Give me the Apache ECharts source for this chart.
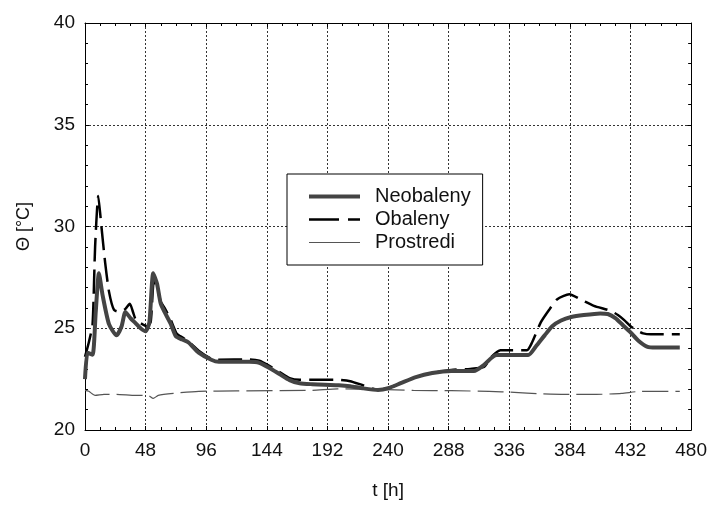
<!DOCTYPE html>
<html><head><meta charset="utf-8">
<script src="https://cdn.jsdelivr.net/npm/echarts@6/dist/echarts.min.js"></script>
<style>html,body{margin:0;padding:0;background:#fff}#c{width:710px;height:505px}</style>
</head><body><div id="c"></div>
<script>
const seriesNames = ["Neobaleny", "Obaleny", "Prostredi"];

const tNeo = [0, 2, 6, 8.5, 11, 14, 19, 25, 29, 32, 36, 40, 44, 48, 51, 54, 57, 60, 63, 68, 72, 77, 82, 90, 100, 106, 115, 130, 138, 146, 154, 162, 170, 180, 190, 201, 210, 220, 232, 240, 250, 262, 275, 290, 308, 316, 322, 326, 335, 351, 357, 364, 370, 377, 385, 395, 408, 414, 420, 426, 432, 438, 445, 452, 471];
const vNeo = [22.5, 23.8, 23.7, 25.8, 27.7, 26.6, 25.2, 24.65, 25.1, 25.8, 25.5, 25.25, 25.0, 24.85, 25.3, 27.7, 27.2, 26.2, 25.8, 25.2, 24.6, 24.45, 24.3, 23.8, 23.45, 23.35, 23.35, 23.35, 23.3, 23.05, 22.75, 22.45, 22.3, 22.25, 22.22, 22.2, 22.15, 22.05, 21.97, 22.05, 22.3, 22.6, 22.8, 22.9, 22.9, 23.2, 23.55, 23.68, 23.68, 23.68, 24.1, 24.65, 25.1, 25.38, 25.55, 25.65, 25.73, 25.7, 25.5, 25.15, 24.8, 24.4, 24.1, 24.05, 24.05];

const tOba = [0, 3, 6, 8, 10.5, 13, 16, 19, 23, 28, 32, 35.5, 38, 40, 44, 49, 52, 54.5, 57, 60, 63, 68, 72.5, 77, 82, 90, 100, 106, 130, 138, 146, 154, 162, 170, 180, 200, 210, 220, 232, 240, 250, 262, 275, 290, 305, 316, 322, 329, 350, 354, 361, 368, 374, 383.5, 393, 403, 416, 422, 427, 432, 437, 442, 448, 471];
const vOba = [23.6, 24.3, 25.2, 29.0, 31.5, 30.0, 28.2, 26.8, 25.9, 25.8, 25.95, 26.2, 25.8, 25.45, 25.25, 25.1, 25.3, 27.3, 27.0, 26.3, 26.0, 25.4, 24.75, 24.55, 24.35, 23.9, 23.5, 23.45, 23.47, 23.4, 23.15, 22.85, 22.55, 22.47, 22.47, 22.47, 22.4, 22.2, 21.98, 22.05, 22.3, 22.6, 22.8, 22.95, 23.0, 23.1, 23.6, 23.92, 23.92, 24.3, 25.3, 25.95, 26.43, 26.67, 26.4, 26.1, 25.86, 25.65, 25.4, 25.1, 24.9, 24.75, 24.7, 24.7];

const tPro = [0, 3, 8, 15, 25, 40, 50, 54, 58, 70, 90, 120, 180, 200, 232, 260, 290, 320, 340, 360, 380, 405, 425, 440, 471];
const vPro = [21.95, 21.9, 21.7, 21.75, 21.75, 21.7, 21.7, 21.55, 21.7, 21.8, 21.9, 21.92, 21.95, 22.02, 22.0, 21.95, 21.93, 21.9, 21.85, 21.78, 21.75, 21.75, 21.8, 21.9, 21.9];

const xMin = 0, xMax = 480, xStep = 48;
const yMin = 20, yMax = 40, yStep = 5;

function pairs(t, v) { return t.map((x, i) => [x, v[i]]); }

const font = "Liberation Sans, Arial, sans-serif";
const gridLine = { show: true, lineStyle: { color: '#333', type: [2, 2], width: 1 } };
const axisLine = { show: true, onZero: false, lineStyle: { color: '#000', width: 1 } };
const tick = { show: true, inside: true, length: 4, lineStyle: { color: '#000' } };

const chart = echarts.init(document.getElementById('c'), null, { renderer: 'canvas' });
chart.setOption({
  animation: false,
  backgroundColor: '#fff',
  grid: { left: 85, right: 16, top: 23, bottom: 69 },
  legend: {
    left: 287, top: 174, orient: 'vertical',
    backgroundColor: '#fff', borderColor: '#000', borderWidth: 1,
    padding: [12, 12, 12, 20],
    itemWidth: 51, itemHeight: 14, itemGap: 2,
    itemStyle: { opacity: 0, borderWidth: 0 },
    textStyle: { fontFamily: font, fontSize: 20, color: '#111', padding: [0, 0, 0, 10], lineHeight: 21 },
    data: [
      { name: seriesNames[0], lineStyle: { width: 4, color: '#444' } },
      { name: seriesNames[1], lineStyle: { width: 2.5, color: '#000', type: [30, 9] } },
      { name: seriesNames[2], lineStyle: { width: 1, color: '#555', type: 'solid' } }
    ]
  },
  xAxis: [{
    type: 'value', min: xMin, max: xMax, interval: xStep,
    name: 't [h]', nameLocation: 'middle', nameGap: 51,
    nameTextStyle: { fontFamily: font, fontSize: 19, color: '#111' },
    axisLine: axisLine, axisTick: tick,
    minorTick: { show: true, splitNumber: 4, length: 3, lineStyle: { color: '#000' } },
    axisLabel: { fontFamily: font, fontSize: 19, color: '#111', margin: 11 },
    splitLine: gridLine
  }, {
    type: 'value', position: 'top', min: xMin, max: xMax, interval: xStep,
    axisLine: axisLine, axisTick: tick,
    minorTick: { show: true, splitNumber: 4, length: 3, lineStyle: { color: '#000' } },
    axisLabel: { show: false }, splitLine: { show: false }
  }],
  yAxis: [{
    type: 'value', min: yMin, max: yMax, interval: yStep,
    name: 'Θ [°C]', nameLocation: 'middle', nameGap: 52, nameRotate: 90,
    nameTextStyle: { fontFamily: font, fontSize: 18, color: '#111' },
    axisLine: axisLine, axisTick: tick,
    minorTick: { show: true, splitNumber: 5, length: 3, lineStyle: { color: '#000' } },
    axisLabel: { fontFamily: font, fontSize: 19, color: '#111', margin: 10 },
    splitLine: gridLine
  }, {
    type: 'value', position: 'right', min: yMin, max: yMax, interval: yStep,
    axisLine: axisLine, axisTick: tick,
    minorTick: { show: true, splitNumber: 5, length: 3, lineStyle: { color: '#000' } },
    axisLabel: { show: false }, splitLine: { show: false }
  }],
  series: [{
    name: seriesNames[2], type: 'line', symbol: 'none', smooth: 0.2,
    data: pairs(tPro, vPro), z: 2,
    lineStyle: { color: '#555', width: 1.2, type: [26, 7] }, itemStyle: { color: '#555' }
  }, {
    name: seriesNames[1], type: 'line', symbol: 'none', smooth: 0.2,
    data: pairs(tOba, vOba), z: 3,
    lineStyle: { color: '#000', width: 2.5, type: [24, 8] }, itemStyle: { color: '#000' }
  }, {
    name: seriesNames[0], type: 'line', symbol: 'none', smooth: 0.2,
    data: pairs(tNeo, vNeo), z: 4,
    lineStyle: { color: '#444', width: 4 }, itemStyle: { color: '#444' }
  }]
});
</script>
</body></html>
